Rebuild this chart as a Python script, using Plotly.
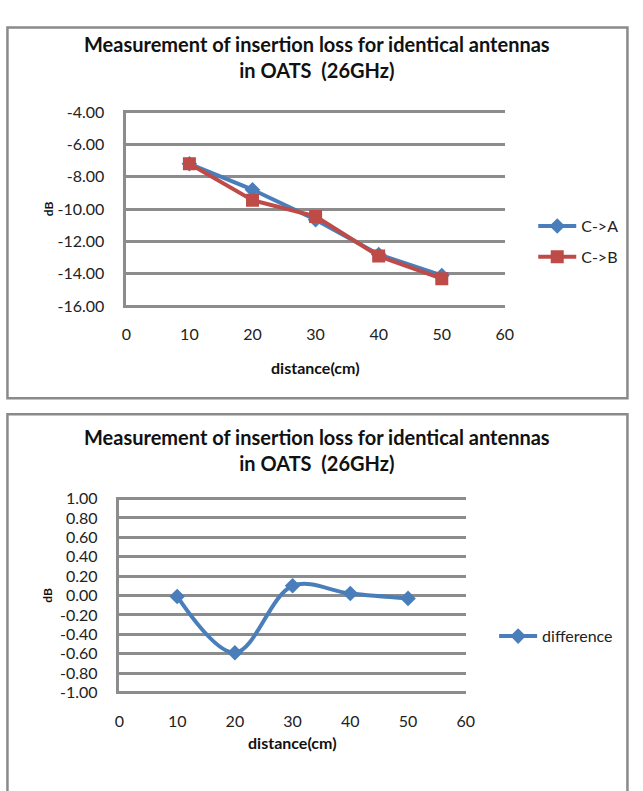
import plotly.graph_objects as go

W, H = 643, 791

# ---- data ----
distance = [10, 20, 30, 40, 50]
c_to_a = [-7.2, -8.8, -10.65, -12.8, -14.1]
c_to_b = [-7.2, -9.45, -10.45, -12.9, -14.3]
difference = [-0.01, -0.59, 0.10, 0.02, -0.03]

x_ticks = [0, 10, 20, 30, 40, 50, 60]
y_ticks_top = [-4.0, -6.0, -8.0, -10.0, -12.0, -14.0, -16.0]
y_ticks_bot = [1.0, 0.8, 0.6, 0.4, 0.2, 0.0, -0.2, -0.4, -0.6, -0.8, -1.0]

title_text = "Measurement of insertion loss for identical antennas<br>in OATS  (26GHz)"

BLUE = "#4A7EBB"
RED = "#BE4B48"
GRID = "#8C8C8C"
FONT = "Lato"


def px(x):
    return x / W


def py(y):
    return 1 - y / H


fig = go.Figure()

fig.add_trace(go.Scatter(
    x=distance, y=c_to_a, name="C->A", mode="lines+markers",
    line=dict(color=BLUE, width=4), marker=dict(symbol="diamond", size=12, color=BLUE),
    xaxis="x", yaxis="y", legend="legend", legendgroup="a"))
fig.add_trace(go.Scatter(
    x=distance, y=c_to_b, name="C->B", mode="lines+markers",
    line=dict(color=RED, width=4), marker=dict(symbol="square", size=13, color=RED),
    xaxis="x", yaxis="y", legend="legend", legendgroup="b"))
fig.add_trace(go.Scatter(
    x=distance, y=difference, name="difference", mode="lines+markers",
    line=dict(color=BLUE, width=4, shape="spline", smoothing=1.0),
    marker=dict(symbol="diamond", size=12, color=BLUE),
    xaxis="x2", yaxis="y2", legend="legend2"))

tickfont = dict(family=FONT, size=16, color="#222222")

xaxis_common = dict(
    range=[0, 60], tickvals=x_ticks, ticktext=[str(v) for v in x_ticks],
    showgrid=False, zeroline=False, showline=False,
    ticks="outside", ticklen=12, tickcolor="rgba(0,0,0,0)", tickfont=tickfont,
    fixedrange=True)
yaxis_common = dict(
    showgrid=True, gridcolor=GRID, gridwidth=2.5, zeroline=False,
    showline=True, linecolor=GRID, linewidth=2.5,
    ticks="outside", ticklen=16, tickcolor="rgba(0,0,0,0)", tickfont=tickfont,
    fixedrange=True)

fig.update_layout(
    width=W, height=H, autosize=False,
    margin=dict(l=0, r=0, t=0, b=0),
    paper_bgcolor="white", plot_bgcolor="white",
    font=dict(family=FONT, color="#222222"),
    xaxis=dict(domain=[px(124), px(511)], anchor="y", **xaxis_common),
    yaxis=dict(domain=[py(306), py(104)], anchor="x", range=[-16.12, -3.88],
               tickvals=y_ticks_top, ticktext=[f"{v:.2f}" for v in y_ticks_top],
               **yaxis_common),
    xaxis2=dict(domain=[px(117), px(471)], anchor="y2", **xaxis_common),
    yaxis2=dict(domain=[py(699.7), py(498)], anchor="x2", range=[-1.02, 1.02],
                tickvals=y_ticks_bot, ticktext=[f"{v:.2f}" for v in y_ticks_bot],
                **yaxis_common),
    legend=dict(x=px(540), y=py(205), xanchor="left", yanchor="top",
                font=dict(family=FONT, size=16, color="#222222"),
                tracegroupgap=7, itemwidth=38, bgcolor="rgba(0,0,0,0)"),
    legend2=dict(x=px(500), y=py(623), xanchor="left", yanchor="top",
                 font=dict(family=FONT, size=16, color="#222222"),
                 itemwidth=38, bgcolor="rgba(0,0,0,0)"),
    shapes=[
        dict(type="rect", xref="paper", yref="paper", x0=px(2.5), x1=px(636.3),
             y0=py(397.7), y1=py(20), line=dict(color="#8A8A8A", width=2.5)),
        dict(type="rect", xref="paper", yref="paper", x0=px(2.5), x1=px(636.3),
             y0=py(820), y1=py(414), line=dict(color="#8A8A8A", width=2.5)),
    ],
)

annos = []
for cy in (50, 451):
    annos.append(dict(text="<b>" + title_text + "</b>", x=px(318.5), y=py(cy), xref="paper", yref="paper",
                      showarrow=False, xanchor="center", yanchor="middle",
                      font=dict(family=FONT, size=20, color="#111111")))
annos.append(dict(text="<b>distance(cm)</b>", x=px(317.5), y=py(366), xref="paper", yref="paper",
                  showarrow=False, font=dict(family=FONT, size=16, color="#111111")))
annos.append(dict(text="<b>distance(cm)</b>", x=px(294), y=py(760), xref="paper", yref="paper",
                  showarrow=False, font=dict(family=FONT, size=16, color="#111111")))
for dy in (205, 599):
    annos.append(dict(text="<b>dB</b>", x=px(44), y=py(dy), xref="paper", yref="paper",
                      showarrow=False, textangle=-90, xanchor="center", yanchor="middle",
                      font=dict(family=FONT, size=12, color="#111111")))
fig.update_layout(annotations=annos)

fig.write_html("out.html")
